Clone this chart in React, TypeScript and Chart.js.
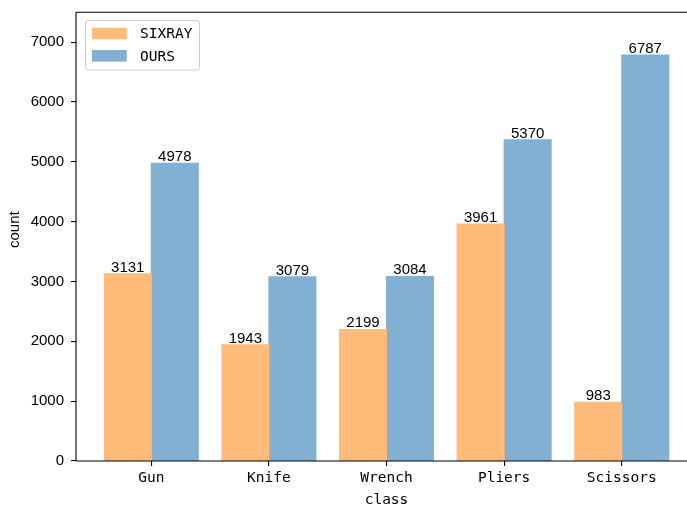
import React, { useEffect, useRef } from "react";
import { Chart, registerables } from "chart.js";
Chart.register(...registerables);

const categories = ["Gun", "Knife", "Wrench", "Pliers", "Scissors"];
const sixray = [3131, 1943, 2199, 3961, 983];
const ours = [4978, 3079, 3084, 5370, 6787];
const yTickValues = [0, 1000, 2000, 3000, 4000, 5000, 6000, 7000];
const seriesNames = ["SIXRAY", "OURS"];
const xTitle = "class";
const yTitle = "count";

const ORANGE = "rgb(255,187,122)";
const BLUE = "rgb(129,176,211)";
const MONO = "'DejaVu Sans Mono', monospace";
const SANS = "'Liberation Sans', Arial, sans-serif";

export default function App() {
  const ref = useRef<HTMLCanvasElement | null>(null);
  useEffect(() => {
    const canvas = ref.current;
    if (!canvas) return;

    const spines = {
      id: "spines",
      afterDatasetsDraw(chart: any) {
        const { ctx, chartArea } = chart;
        ctx.save();
        ctx.strokeStyle = "#000";
        ctx.lineWidth = 1.1;
        ctx.beginPath();
        ctx.moveTo(chartArea.left, chartArea.top);
        ctx.lineTo(chartArea.left, chartArea.bottom);
        ctx.moveTo(chartArea.left, chartArea.bottom);
        ctx.lineTo(chartArea.right, chartArea.bottom);
        ctx.moveTo(chartArea.left, chartArea.top);
        ctx.lineTo(chartArea.right, chartArea.top);
        ctx.moveTo(chartArea.right, chartArea.top);
        ctx.lineTo(chartArea.right, chartArea.bottom);
        ctx.stroke();
        ctx.restore();
      },
    };

    const valueLabels = {
      id: "valueLabels",
      afterDatasetsDraw(chart: any) {
        const { ctx } = chart;
        ctx.save();
        ctx.font = `15px ${SANS}`;
        ctx.fillStyle = "#000";
        ctx.textAlign = "center";
        ctx.textBaseline = "alphabetic";
        chart.data.datasets.forEach((ds: any, di: number) => {
          const meta = chart.getDatasetMeta(di);
          meta.data.forEach((el: any, i: number) => {
            const v = ds.data[i].y;
            ctx.fillText(String(v), el.x, el.y - 2);
          });
        });
        ctx.restore();
      },
    };

    const legendBox = {
      id: "legendBox",
      afterDraw(chart: any) {
        const { ctx } = chart;
        ctx.save();
        ctx.beginPath();
        (ctx as any).roundRect(85.5, 20.5, 114, 49.5, 2.5);
        ctx.fillStyle = "rgba(255,255,255,0.8)";
        ctx.fill();
        ctx.strokeStyle = "#cccccc";
        ctx.lineWidth = 1;
        ctx.stroke();
        const colors = [ORANGE, BLUE];
        const rows = [33.5, 55.8];
        ctx.font = `14.5px ${MONO}`;
        ctx.textAlign = "left";
        ctx.textBaseline = "middle";
        seriesNames.forEach((name, i) => {
          ctx.fillStyle = colors[i];
          ctx.fillRect(92, rows[i] - 5.8, 34.7, 11.6);
          ctx.fillStyle = "#000";
          ctx.fillText(name, 140, rows[i] + 1);
        });
        ctx.restore();
      },
    };

    const titles = {
      id: "titles",
      afterDraw(chart: any) {
        const { ctx, chartArea } = chart;
        ctx.save();
        ctx.fillStyle = "#000";
        ctx.font = `14.5px ${MONO}`;
        ctx.textAlign = "center";
        ctx.textBaseline = "alphabetic";
        ctx.fillText(xTitle, (chartArea.left + chartArea.right) / 2, 504);
        ctx.translate(18.5, (chartArea.top + chartArea.bottom) / 2 - 7);
        ctx.rotate(-Math.PI / 2);
        ctx.font = `15px ${SANS}`;
        ctx.fillText(yTitle, 0, 0);
        ctx.restore();
      },
    };

    const zeroPad = (s: any) => {
      s.paddingTop = 0;
      s.paddingBottom = 0;
      s.paddingLeft = 0;
      s.paddingRight = 0;
    };

    const chart = new Chart(canvas, {
      type: "bar",
      data: {
        datasets: [
          {
            label: seriesNames[0],
            data: sixray.map((v, i) => ({ x: i, y: v })),
            backgroundColor: ORANGE,
            borderWidth: 0,
            inflateAmount: 0.5,
            barPercentage: 1,
            categoryPercentage: 0.8,
          },
          {
            label: seriesNames[1],
            data: ours.map((v, i) => ({ x: i, y: v })),
            backgroundColor: BLUE,
            borderWidth: 0,
            inflateAmount: 0.5,
            barPercentage: 1,
            categoryPercentage: 0.8,
          },
        ],
      },
      options: {
        responsive: false,
        animation: false,
        devicePixelRatio: 1,
        layout: { padding: { left: 0, right: 3, top: 12.3, bottom: 0 } },
        plugins: {
          legend: { display: false },
          tooltip: { enabled: false },
          title: { display: false },
        },
        scales: {
          x: {
            type: "linear",
            offset: false,
            min: -0.64,
            max: 4.64,
            afterBuildTicks: (s: any) => {
              s.ticks = categories.map((_, i) => ({ value: i }));
            },
            afterFit: (s: any) => {
              s.height = 44;
              zeroPad(s);
            },
            ticks: {
              callback: (v: any) => categories[Math.round(Number(v))] ?? "",
              font: { family: MONO, size: 14.5 },
              color: "#000",
              padding: 4,
              autoSkip: false,
              maxRotation: 0,
            },
            grid: { offset: false, drawOnChartArea: false, drawTicks: true, tickLength: 5, color: "#000", lineWidth: 1.1 },
            border: { display: false },
          },
          y: {
            type: "linear",
            min: 0,
            max: 7500,
            afterBuildTicks: (s: any) => {
              s.ticks = yTickValues.map((v) => ({ value: v }));
            },
            afterFit: (s: any) => {
              s.width = 76;
              zeroPad(s);
            },
            ticks: {
              font: { family: SANS, size: 15 },
              color: "#000",
              padding: 7,
              callback: (v: any) => String(v),
            },
            grid: { drawOnChartArea: false, drawTicks: true, tickLength: 5, color: "#000", lineWidth: 1.1 },
            border: { display: false },
          },
        },
      },
      plugins: [spines, valueLabels, legendBox, titles],
    } as any);
    return () => chart.destroy();
  }, []);

  return (
    <div
      style={{
        position: "fixed",
        left: 0,
        top: 0,
        width: 687,
        height: 505,
        overflow: "hidden",
        background: "#fff",
      }}
    >
      <canvas ref={ref} width={700} height={505} style={{ width: 700, height: 505, display: "block" }} />
    </div>
  );
}
